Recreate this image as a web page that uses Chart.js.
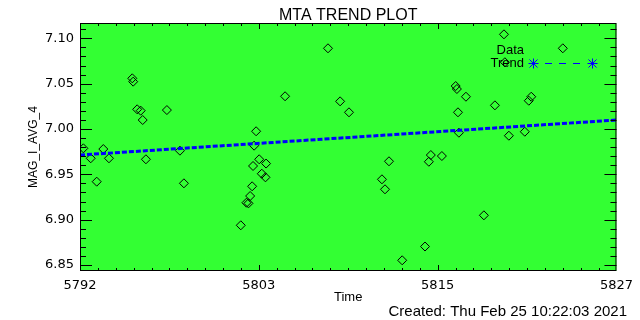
<!DOCTYPE html>
<html><head><meta charset="utf-8">
<script src="https://cdn.jsdelivr.net/npm/chart.js@4/dist/chart.umd.min.js"></script>
<style>html,body{margin:0;padding:0;background:#fff;}#wrap{width:640px;height:320px;}</style>
</head><body><div id="wrap"><canvas id="c" width="640" height="320"></canvas></div>
<script>
// ---- data ----
const timeValues = [5792.22, 5792.70, 5793.09, 5793.52, 5793.89, 5795.41, 5795.47, 5795.73, 5795.96, 5796.09,
  5796.30, 5797.67, 5798.52, 5798.78, 5802.49, 5802.86, 5802.99, 5803.10, 5803.23, 5803.29,
  5803.36, 5803.49, 5803.69, 5803.86, 5804.10, 5804.14, 5805.38, 5808.18, 5808.97, 5809.55,
  5811.70, 5811.90, 5812.16, 5813.02, 5814.51, 5814.76, 5814.89, 5815.61, 5816.51, 5816.59,
  5816.66, 5816.72, 5817.18, 5818.35, 5819.07, 5819.66, 5819.72, 5819.98, 5821.02, 5821.28,
  5821.44, 5823.50];
const magValues = [6.9787, 6.9677, 6.9419, 6.9779, 6.9677, 7.0559, 7.0522, 7.0217, 7.0202, 7.0099,
  6.9666, 7.0209, 6.9761, 6.9401, 6.8938, 6.9187, 6.9180, 6.9261, 6.9368, 6.9592,
  6.9816, 6.9975, 6.9666, 6.9507, 6.9467, 6.9619, 7.0361, 7.0890, 7.0305, 7.0184,
  6.9445, 6.9335, 6.9644, 6.8552, 6.8704, 6.9639, 6.9713, 6.9702, 7.0474, 7.0441,
  7.0184, 6.9959, 7.0356, 6.9048, 7.0261, 7.1044, 7.0736, 6.9926, 6.9970, 7.0312,
  7.0356, 7.0890];
const trendTime = [5792, 5827];
const trendMag = [6.9713, 7.0099];
const xTickLabels = ['5792', '5803', '5815', '5827'];
const yTickValues = [6.85, 6.90, 6.95, 7.00, 7.05, 7.10];
const yTickLabels = ['6.85', '6.90', '6.95', '7.00', '7.05', '7.10'];
const xRange = [5792, 5827];
const yRange = [6.8434, 7.1169];

const GREEN = '#33ff33';
const BLUE = '#0000ff';

const framePlugin = {
  id: 'idlFrame',
  beforeDraw(chart) {
    const {ctx, chartArea: a} = chart;
    ctx.save();
    ctx.fillStyle = '#ffffff';
    ctx.fillRect(0, 0, chart.width, chart.height);
    ctx.fillStyle = GREEN;
    ctx.fillRect(a.left, a.top, a.right - a.left, a.bottom - a.top);
    ctx.restore();
  },
  afterDraw(chart) {
    const {ctx, chartArea: a, scales} = chart;
    const xs = scales.x, ys = scales.y;
    ctx.save();
    ctx.strokeStyle = '#000';
    ctx.lineWidth = 1;
    // frame
    ctx.strokeRect(a.left + 0.5, a.top + 0.5, a.right - a.left - 1, a.bottom - a.top - 1);
    ctx.beginPath();
    // x ticks: 3 majors, 10 minors each
    const xStep = (xRange[1] - xRange[0]) / 30;
    for (let i = 1; i < 30; i++) {
      const px = Math.round(xs.getPixelForValue(xRange[0] + i * xStep)) + 0.5;
      const len = (i % 10 === 0) ? 6 : 3;
      ctx.moveTo(px, a.bottom); ctx.lineTo(px, a.bottom - len);
      ctx.moveTo(px, a.top); ctx.lineTo(px, a.top + len);
    }
    // y ticks: every 0.01, major every 0.05
    for (let k = 685; k <= 711; k++) {
      const v = k / 100;
      if (v <= yRange[0] || v >= yRange[1]) continue;
      const py = Math.round(ys.getPixelForValue(v)) + 0.5;
      const len = (k % 5 === 0) ? 12 : 6;
      ctx.moveTo(a.left, py); ctx.lineTo(a.left + len, py);
      ctx.moveTo(a.right, py); ctx.lineTo(a.right - len, py);
    }
    ctx.stroke();

    // title & axis titles
    ctx.fillStyle = '#000';
    ctx.textBaseline = 'alphabetic';
    ctx.textAlign = 'center';
    const cx = (a.left + a.right) / 2;
    ctx.font = '16px "Liberation Sans", Arial, sans-serif';
    ctx.fillText('MTA TREND PLOT', cx, 20);
    ctx.font = '13px "Liberation Sans", Arial, sans-serif';
    ctx.fillText('Time', cx, 301);
    ctx.textAlign = 'right';
    ctx.font = '15px "Liberation Sans", Arial, sans-serif';
    ctx.fillText('Created: Thu Feb 25 10:22:03 2021', 627, 316);
    // y title
    ctx.save();
    ctx.translate(37, (a.top + a.bottom) / 2);
    ctx.rotate(-Math.PI / 2);
    ctx.textAlign = 'center';
    ctx.font = '12px "Liberation Sans", Arial, sans-serif';
    ctx.fillText('MAG_I_AVG_4', 0, 0);
    ctx.restore();

    // legend
    ctx.font = '13px "Liberation Sans", Arial, sans-serif';
    ctx.textAlign = 'right';
    ctx.fillText('Data', 524, 54);
    ctx.fillText('Trend', 524, 67);
    ctx.strokeStyle = BLUE;
    ctx.lineWidth = 1;
    const ly = 63.5;
    const star = (x) => {
      ctx.beginPath();
      ctx.moveTo(x - 5, ly); ctx.lineTo(x + 5, ly);
      ctx.moveTo(x, ly - 5); ctx.lineTo(x, ly + 5);
      ctx.moveTo(x - 4, ly - 4); ctx.lineTo(x + 4, ly + 4);
      ctx.moveTo(x - 4, ly + 4); ctx.lineTo(x + 4, ly - 4);
      ctx.stroke();
    };
    star(533.5); star(592.5);
    ctx.beginPath();
    ctx.setLineDash([7, 7]);
    ctx.moveTo(545, ly); ctx.lineTo(586, ly);
    ctx.stroke();
    ctx.restore();
  }
};

new Chart(document.getElementById('c'), {
  type: 'scatter',
  data: {
    datasets: [
      {
        label: 'Trend',
        type: 'line',
        data: trendTime.map((t, i) => ({x: t, y: trendMag[i]})),
        borderColor: BLUE,
        borderWidth: 3,
        borderDash: [5, 2],
        pointRadius: 0,
        fill: false
      },
      {
        label: 'Data',
        data: timeValues.map((t, i) => ({x: t, y: magValues[i]})),
        pointStyle: 'rectRot',
        pointRadius: 4.5,
        borderColor: '#000',
        backgroundColor: 'rgba(0,0,0,0)',
        borderWidth: 1
      }
    ]
  },
  options: {
    responsive: false,
    animation: false,
    devicePixelRatio: 1,
    layout: {padding: {top: 23, right: 23, left: 0, bottom: 0}},
    plugins: {legend: {display: false}, tooltip: {enabled: false}, title: {display: false}},
    scales: {
      x: {
        type: 'linear',
        min: xRange[0], max: xRange[1],
        grid: {display: false, drawTicks: false},
        border: {display: false},
        afterBuildTicks: (s) => {
          s.ticks = xTickLabels.map((l, i) => ({value: xRange[0] + i * (xRange[1] - xRange[0]) / 3}));
        },
        afterFit: (s) => { s.height = 49; },
        ticks: {
          autoSkip: false, maxRotation: 0, padding: 7, color: '#000',
          font: {family: '"DejaVu Sans", sans-serif', size: 13},
          callback: (v, i) => xTickLabels[i]
        }
      },
      y: {
        min: yRange[0], max: yRange[1],
        grid: {display: false, drawTicks: false},
        border: {display: false},
        afterBuildTicks: (s) => { s.ticks = yTickValues.map(v => ({value: v})); },
        afterFit: (s) => { s.width = 80; },
        ticks: {
          autoSkip: false, padding: 6, color: '#000',
          font: {family: '"DejaVu Sans", sans-serif', size: 13},
          callback: (v, i) => yTickLabels[i]
        }
      }
    }
  },
  plugins: [framePlugin]
});
</script></body></html>
